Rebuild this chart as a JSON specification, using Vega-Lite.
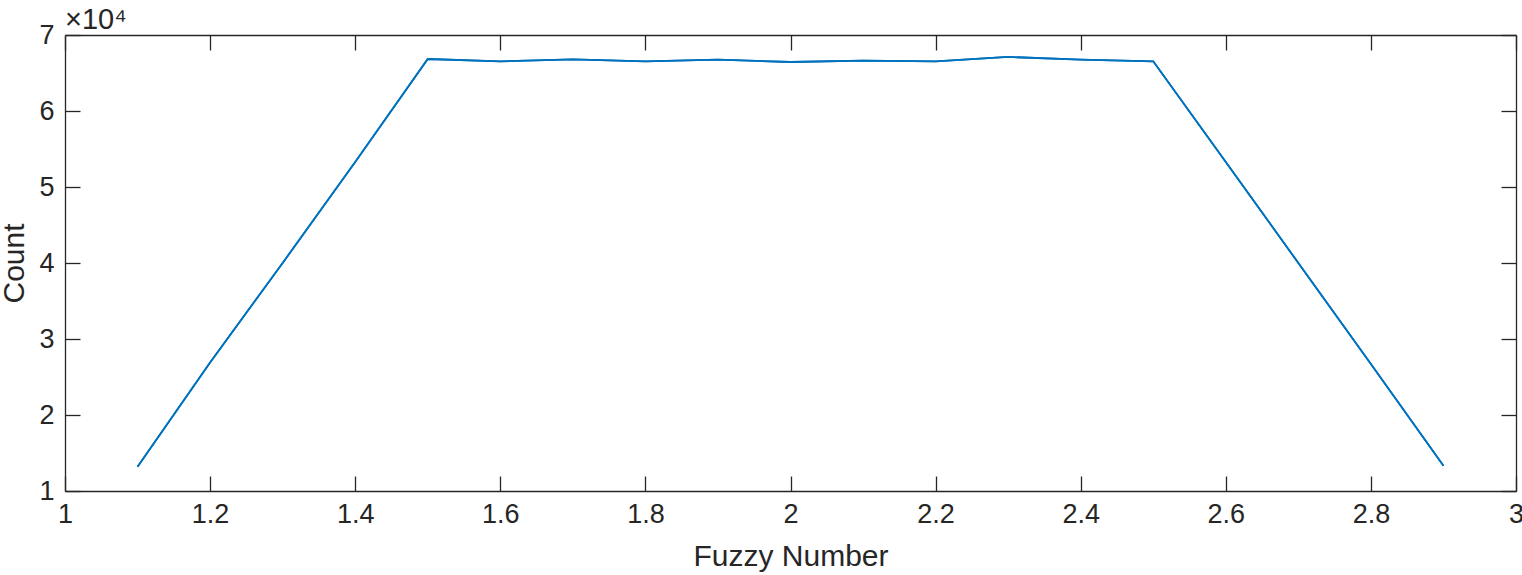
{
  "$schema": "https://vega.github.io/schema/vega-lite/v6.json",
  "autosize": "none",
  "width": 1451,
  "height": 456,
  "padding": {"left": 65, "top": 35, "right": 6, "bottom": 84},
  "background": "white",
  "config": {
    "view": {"stroke": null},
    "font": "Liberation Sans",
    "axis": {
      "domainColor": "#262626",
      "domainWidth": 1.3,
      "tickColor": "#262626",
      "tickWidth": 1.3,
      "tickSize": -15,
      "grid": false,
      "labelColor": "#262626",
      "labelFont": "Liberation Sans",
      "labelFontSize": 27,
      "titleColor": "#262626",
      "titleFont": "Liberation Sans",
      "titleFontSize": 30,
      "titleFontWeight": "normal",
      "labelOverlap": false,
      "labelBound": false,
      "labelFlush": false
    }
  },
  "title": {
    "text": "×10⁴",
    "anchor": "start",
    "frame": "group",
    "fontSize": 29,
    "fontWeight": "normal",
    "color": "#262626",
    "font": "Liberation Sans",
    "offset": -14,
    "dx": 0
  },
  "data": {
    "values": [
      {"fuzzy": 1.1, "count": 13200},
      {"fuzzy": 1.2, "count": 26900},
      {"fuzzy": 1.3, "count": 40000},
      {"fuzzy": 1.4, "count": 53300},
      {"fuzzy": 1.5, "count": 66840},
      {"fuzzy": 1.6, "count": 66540},
      {"fuzzy": 1.7, "count": 66780},
      {"fuzzy": 1.8, "count": 66540},
      {"fuzzy": 1.9, "count": 66760},
      {"fuzzy": 2.0, "count": 66450},
      {"fuzzy": 2.1, "count": 66630},
      {"fuzzy": 2.2, "count": 66540},
      {"fuzzy": 2.3, "count": 67110},
      {"fuzzy": 2.4, "count": 66760},
      {"fuzzy": 2.5, "count": 66540},
      {"fuzzy": 2.6, "count": 53300},
      {"fuzzy": 2.7, "count": 40000},
      {"fuzzy": 2.8, "count": 26700},
      {"fuzzy": 2.9, "count": 13330}
    ]
  },
  "layer": [
    {
      "mark": {"type": "line", "color": "#0072BD", "strokeWidth": 1.8, "clip": true},
      "encoding": {
        "x": {
          "field": "fuzzy", "type": "quantitative",
          "scale": {"domain": [1, 3], "nice": false, "zero": false},
          "axis": {
            "orient": "bottom",
            "title": "Fuzzy Number",
            "values": [1, 1.2, 1.4, 1.6, 1.8, 2, 2.2, 2.4, 2.6, 2.8, 3],
            "format": "~g",
            "labelPadding": 25,
            "titlePadding": 14
          }
        },
        "y": {
          "field": "count", "type": "quantitative",
          "scale": {"domain": [10000, 70000], "nice": false, "zero": false},
          "axis": {
            "orient": "left",
            "title": "Count",
            "values": [10000, 20000, 30000, 40000, 50000, 60000, 70000],
            "labelExpr": "datum.value / 10000",
            "labelPadding": 26,
            "titlePadding": 9
          }
        }
      }
    },
    {
      "mark": {"type": "line", "color": "#0072BD", "strokeWidth": 1.8, "clip": true},
      "encoding": {
        "x": {
          "field": "fuzzy", "type": "quantitative",
          "axis": {
            "orient": "top",
            "title": null,
            "labels": false,
            "values": [1, 1.2, 1.4, 1.6, 1.8, 2, 2.2, 2.4, 2.6, 2.8, 3]
          }
        },
        "y": {
          "field": "count", "type": "quantitative",
          "axis": {
            "orient": "right",
            "title": null,
            "labels": false,
            "values": [10000, 20000, 30000, 40000, 50000, 60000, 70000]
          }
        }
      }
    }
  ],
  "resolve": {"axis": {"x": "independent", "y": "independent"}}
}
